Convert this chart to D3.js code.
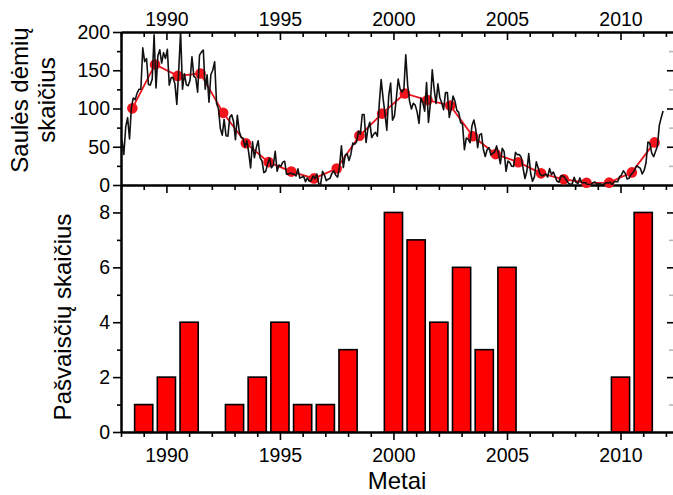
<!DOCTYPE html>
<html lang="lt">
<head>
    <meta charset="UTF-8">
    <title>Saulės dėmės ir pašvaistės</title>

    <script src="https://d3js.org/d3.v7.min.js"></script>

    <style>
        body { margin: 0; background: #fff; }
        text { font-family: "Liberation Sans", Arial, sans-serif; fill: #000; }
        .tick text { font-size: 19.5px; }
        .axis_title { font-size: 24px; }
        .domain { stroke-width: 2px; }
        .tick line { stroke-width: 1.6px; }
        .minor_right .tick line { stroke: #b8b8b8; }
    </style>
</head>

<body>
<svg width="673" height="495"></svg>

<script>
    // monthly sunspot numbers, Jan 1988 .. Nov 2011
    const monthStart = 1988;
    const monthlySpots = [
        59.0, 40.0, 76.2, 88.0, 60.1, 101.8, 113.8, 111.6, 120.1, 125.1, 125.1, 179.2,
        161.3, 165.1, 131.4, 130.6, 138.5, 196.2, 126.9, 168.9, 176.7, 159.4, 173.0, 165.5,
        177.3, 130.5, 140.3, 140.3, 132.2, 105.4, 149.4, 200.3, 125.2, 145.5, 131.4, 129.7,
        136.9, 167.5, 141.9, 140.0, 121.3, 169.7, 173.7, 176.3, 125.3, 144.1, 108.2, 144.4,
        150.0, 161.1, 106.7, 99.8, 73.8, 65.2, 85.7, 64.5, 63.9, 88.7, 91.8, 82.6,
        59.3, 91.0, 69.8, 62.2, 61.3, 49.8, 57.9, 42.2, 22.4, 56.4, 35.6, 48.9,
        57.8, 35.5, 31.7, 16.1, 17.8, 28.0, 35.1, 22.5, 25.7, 44.0, 18.0, 26.2,
        24.2, 29.9, 31.1, 14.0, 14.5, 15.6, 14.5, 14.3, 11.8, 21.1, 9.0, 10.0,
        11.5, 4.4, 9.2, 4.8, 5.5, 11.8, 8.2, 14.4, 1.6, 0.9, 17.9, 13.3,
        5.7, 7.6, 8.7, 15.5, 18.5, 12.7, 10.4, 24.4, 51.3, 22.8, 39.0, 41.2,
        31.9, 40.3, 54.8, 53.4, 56.3, 70.7, 66.6, 92.2, 92.2, 55.5, 74.0, 81.9,
        62.0, 66.3, 68.8, 63.7, 106.4, 137.7, 113.5, 93.7, 71.5, 116.7, 133.2, 84.6,
        90.1, 112.9, 138.5, 125.5, 121.6, 124.9, 170.1, 130.5, 109.7, 99.4, 106.8, 104.4,
        95.6, 80.6, 113.5, 107.7, 96.6, 134.0, 81.8, 106.4, 150.7, 125.5, 106.5, 132.2,
        114.1, 107.4, 98.4, 120.7, 120.8, 88.3, 99.6, 116.4, 109.6, 97.5, 95.0, 81.6,
        79.5, 46.2, 61.5, 60.0, 55.2, 77.4, 85.0, 72.7, 48.8, 65.6, 67.2, 46.7,
        37.2, 46.0, 48.9, 39.3, 41.5, 43.2, 51.1, 40.9, 27.7, 48.0, 43.5, 17.9,
        31.3, 29.2, 24.5, 24.4, 42.6, 39.6, 39.9, 36.4, 22.1, 8.5, 18.0, 41.2,
        15.3, 4.9, 10.6, 30.2, 22.3, 13.9, 12.2, 12.9, 14.4, 10.5, 21.4, 13.6,
        16.9, 10.6, 4.8, 3.7, 11.7, 12.0, 10.0, 6.2, 2.4, 0.9, 1.7, 10.1,
        3.3, 2.1, 9.3, 2.9, 2.9, 3.1, 0.5, 0.5, 1.1, 2.9, 4.1, 0.8,
        1.5, 1.4, 0.7, 1.2, 2.9, 2.6, 3.5, 0.0, 4.2, 4.6, 4.2, 10.6,
        13.1, 18.6, 15.4, 7.9, 8.8, 13.5, 16.1, 19.6, 25.2, 23.5, 21.6, 14.5,
        19.0, 29.4, 56.2, 54.4, 41.6, 37.0, 43.9, 50.6, 78.0, 88.0, 96.7
    ];

    // yearly means (red curve)
    const annualYears = d3.range(1988, 2012);
    const annualSpots = [100.2, 157.6, 142.6, 145.7, 94.3, 54.6, 29.9, 17.5, 8.6, 21.5, 64.3, 93.3,
        119.6, 111.0, 104.0, 63.7, 40.4, 29.8, 15.2, 7.5, 2.9, 3.1, 16.5, 55.7];

    // aurora counts per year (bars)
    const auroraYears = [1989, 1990, 1991, 1993, 1994, 1995, 1996, 1997, 1998,
        2000, 2001, 2002, 2003, 2004, 2005, 2010, 2011];
    const auroraCounts = [1, 2, 4, 1, 2, 4, 1, 1, 3, 8, 7, 4, 6, 3, 6, 2, 8];

    const majorYears = [1990, 1995, 2000, 2005, 2010];
    const minorYears = d3.range(1988, 2013).filter(y => y % 5 !== 0);

    let svg = d3.select("svg");

    const left = 121, right = 675;
    const topY = 32, midY = 185, botY = 432;

    let x = d3.scaleLinear().domain([1988, 2012.4]).range([left, right]);
    let ySpots = d3.scaleLinear().domain([0, 200]).range([midY, topY]);
    let yAur = d3.scaleLinear().domain([0, 9]).range([botY, midY]);

    /////////////////// AXES ///////////////////
    function addAxis(axis, tx, ty, cls) {
        svg.append("g")
            .attr("class", cls || "")
            .attr("transform", "translate(" + tx + "," + ty + ")")
            .call(axis);
    }

    // top panel
    addAxis(d3.axisTop(x).tickValues(majorYears).tickFormat(d3.format("d"))
        .tickSizeInner(-8).tickSizeOuter(0).tickPadding(6), 0, topY);
    addAxis(d3.axisTop(x).tickValues(minorYears).tickFormat("")
        .tickSizeInner(-5).tickSizeOuter(0), 0, topY);
    addAxis(d3.axisLeft(ySpots).tickValues([0, 50, 100, 150, 200])
        .tickSizeInner(8).tickSizeOuter(0).tickPadding(3), left, 0);
    addAxis(d3.axisLeft(ySpots).tickValues([25, 75, 125, 175]).tickFormat("")
        .tickSizeInner(4).tickSizeOuter(0), left, 0);
    addAxis(d3.axisRight(ySpots).tickValues([50, 100, 150]).tickFormat("")
        .tickSizeInner(-8).tickSizeOuter(0), right, 0);
    addAxis(d3.axisRight(ySpots).tickValues([25, 75, 125, 175]).tickFormat("")
        .tickSizeInner(-6).tickSizeOuter(0), right, 0, "minor_right");

    // bottom panel
    addAxis(d3.axisTop(x).tickValues(majorYears).tickFormat("")
        .tickSizeInner(-8).tickSizeOuter(0), 0, midY);
    addAxis(d3.axisTop(x).tickValues(minorYears).tickFormat("")
        .tickSizeInner(-5).tickSizeOuter(0), 0, midY);
    addAxis(d3.axisBottom(x).tickValues(majorYears).tickFormat(d3.format("d"))
        .tickSizeInner(8).tickSizeOuter(0).tickPadding(8), 0, botY);
    addAxis(d3.axisBottom(x).tickValues(minorYears).tickFormat("")
        .tickSizeInner(5).tickSizeOuter(0), 0, botY);
    addAxis(d3.axisLeft(yAur).tickValues([0, 2, 4, 6, 8])
        .tickSizeInner(8).tickSizeOuter(0).tickPadding(3), left, 0);
    addAxis(d3.axisLeft(yAur).tickValues([1, 3, 5, 7]).tickFormat("")
        .tickSizeInner(4).tickSizeOuter(0), left, 0);
    addAxis(d3.axisRight(yAur).tickValues([2, 4, 6, 8]).tickFormat("")
        .tickSizeInner(-8).tickSizeOuter(0), right, 0);
    addAxis(d3.axisRight(yAur).tickValues([1, 3, 5, 7]).tickFormat("")
        .tickSizeInner(-6).tickSizeOuter(0), right, 0, "minor_right");

    /////////////////// TOP PANEL ///////////////////
    svg.append("clipPath").attr("id", "clipTop")
        .append("rect").attr("x", left).attr("y", topY)
        .attr("width", right - left).attr("height", midY - topY);

    let monthly = monthlySpots.map((v, i) => [monthStart + (i + 0.5) / 12, v]);
    let line = d3.line().x(d => x(d[0])).y(d => ySpots(d[1]));

    let annual = annualYears.map((y, i) => [y + 0.5, annualSpots[i]]);
    svg.append("path")
        .datum(annual)
        .attr("d", line)
        .attr("fill", "none")
        .attr("stroke", "#e8131b")
        .attr("stroke-width", 1.8);

    svg.append("g").selectAll("circle")
        .data(annual)
        .enter()
        .append("circle")
        .attr("cx", d => x(d[0]))
        .attr("cy", d => ySpots(d[1]))
        .attr("r", 5.3)
        .attr("fill", "#f2141c");

    svg.append("path")
        .datum(monthly)
        .attr("clip-path", "url(#clipTop)")
        .attr("d", line)
        .attr("fill", "none")
        .attr("stroke", "#111")
        .attr("stroke-width", 1.6)
        .attr("stroke-linejoin", "round");

    /////////////////// BOTTOM PANEL ///////////////////
    const barW = x(1988.8) - x(1988);
    svg.append("g").selectAll("rect")
        .data(auroraYears)
        .enter()
        .append("rect")
        .attr("x", (d) => x(d) - barW / 2)
        .attr("y", (d, i) => yAur(auroraCounts[i]))
        .attr("width", barW)
        .attr("height", (d, i) => botY - yAur(auroraCounts[i]))
        .attr("fill", "#ff0000")
        .attr("stroke", "black")
        .attr("stroke-width", 1.6);

    /////////////////// TITLES ///////////////////
    svg.append("text").attr("class", "axis_title")
        .attr("transform", "translate(28,100) rotate(-90)")
        .attr("text-anchor", "middle").text("Saulės dėmių");
    svg.append("text").attr("class", "axis_title")
        .attr("transform", "translate(55,100) rotate(-90)")
        .attr("text-anchor", "middle").text("skaičius");
    svg.append("text").attr("class", "axis_title")
        .attr("transform", "translate(71,317) rotate(-90)")
        .attr("text-anchor", "middle").text("Pašvaisčių skaičius");
    svg.append("text").attr("class", "axis_title")
        .attr("x", 397).attr("y", 489)
        .attr("text-anchor", "middle").text("Metai");
</script>
</body>
</html>
